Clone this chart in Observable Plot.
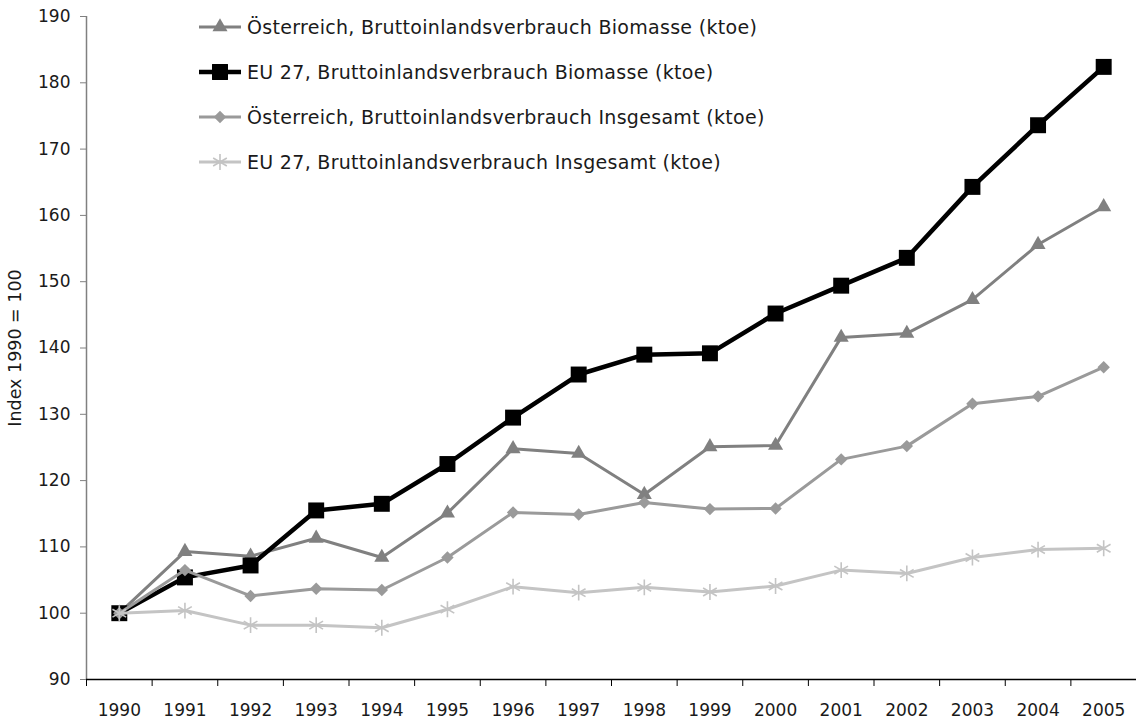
<!DOCTYPE html>
<html><head><meta charset="utf-8">
<script src="https://cdn.jsdelivr.net/npm/d3@7"></script>
<script src="https://cdn.jsdelivr.net/npm/@observablehq/plot@0.6"></script>
<style>
html,body{margin:0;padding:0;background:#fff;}
#wrap{position:relative;width:1136px;height:722px;font-family:"DejaVu Sans",sans-serif;}
#legend{position:absolute;left:199px;top:15px;}
.row{display:flex;align-items:center;height:24px;margin-bottom:21px;font-size:19px;letter-spacing:0.3px;color:#1a1a1a;white-space:nowrap;}
.row svg{margin-right:6px;}
</style></head><body><div id="wrap"></div>
<script>
const years = [1990,1991,1992,1993,1994,1995,1996,1997,1998,1999,2000,2001,2002,2003,2004,2005];
const atBio   = [100,109.3,108.6,111.3,108.4,115.1,124.8,124.1,117.9,125.1,125.3,141.6,142.2,147.3,155.6,161.3];
const euBio   = [100,105.4,107.2,115.5,116.5,122.5,129.5,136.0,139.0,139.2,145.2,149.4,153.6,164.3,173.6,182.4];
const atTotal = [100,106.5,102.6,103.7,103.5,108.4,115.2,114.9,116.7,115.7,115.8,123.2,125.2,131.6,132.7,137.1];
const euTotal = [100,100.4,98.2,98.2,97.8,100.6,104.0,103.1,103.9,103.2,104.1,106.5,106.0,108.4,109.6,109.8];
const seriesNames = [
  "Österreich, Bruttoinlandsverbrauch Biomasse (ktoe)",
  "EU 27, Bruttoinlandsverbrauch Biomasse (ktoe)",
  "Österreich, Bruttoinlandsverbrauch Insgesamt (ktoe)",
  "EU 27, Bruttoinlandsverbrauch Insgesamt (ktoe)"
];
const yTicks = [90,100,110,120,130,140,150,160,170,180,190];
const yLabel = "Index 1990 = 100";

const styles = [
  {values: atBio,   color: "#808080", width: 3,   symbol: "triangle",  r: 5.6, fill: true},
  {values: euBio,   color: "#000000", width: 4.5, symbol: "square",    r: 9,   fill: true},
  {values: atTotal, color: "#9a9a9a", width: 3,   symbol: "diamond2",  r: 5.6, fill: true},
  {values: euTotal, color: "#c4c4c4", width: 3,   symbol: "asterisk",  r: 7.5, fill: false}
];

const data = styles.map((s, k) => years.map((yr, i) => ({series: seriesNames[k], year: yr, value: s.values[i]})));

const boundaries = [years[0] - 0.5, ...years.map(y => y + 0.5)];

const marks = [];
styles.forEach((s, k) => {
  marks.push(Plot.line(data[k], {x: "year", y: "value", stroke: s.color, strokeWidth: s.width, strokeLinejoin: "round"}));
  marks.push(Plot.dot(data[k], s.fill
    ? {x: "year", y: "value", symbol: () => s.symbol, r: s.r, fill: s.color, stroke: "none"}
    : {x: "year", y: "value", symbol: () => s.symbol, r: s.r, fill: "none", stroke: s.color, strokeWidth: 1.6}));
});

const plot = Plot.plot({
  width: 1136,
  height: 722,
  marginLeft: 86,
  marginRight: 0,
  marginTop: 16,
  marginBottom: 43,
  style: {fontFamily: "'DejaVu Sans', sans-serif", fontSize: "17px", color: "#1a1a1a", background: "#fff"},
  x: {domain: [boundaries[0], boundaries[boundaries.length - 1]], type: "linear"},
  y: {domain: [90, 190]},
  symbol: {type: "identity"},
  marks: [
    Plot.axisY({ticks: yTicks, tickSize: 6, tickPadding: 10, stroke: "#808080", label: null, fontSize: 17}),
    Plot.axisY({ticks: [], label: yLabel, labelAnchor: "center", labelOffset: 78, labelArrow: "none", fontSize: 17.5}),
    Plot.axisX({ticks: years, tickSize: 0, tickPadding: 24, tickFormat: d => String(d), label: null, fontSize: 17}),
    Plot.axisX({ticks: boundaries, tickSize: 7, tickFormat: () => "", label: null, stroke: "#000"}),
    Plot.ruleX([boundaries[0]], {stroke: "#808080", strokeWidth: 1.5}),
    Plot.ruleY([90], {stroke: "#000", strokeWidth: 1.5}),
    ...marks
  ]
});

const wrap = document.getElementById("wrap");
wrap.appendChild(plot);

// legend
const legend = document.createElement("div");
legend.id = "legend";
styles.forEach((s, k) => {
  const row = document.createElement("div");
  row.className = "row";
  const sw = d3.create("svg").attr("width", 42).attr("height", 24);
  sw.append("line").attr("x1", 0).attr("x2", 42).attr("y1", 12).attr("y2", 12)
    .attr("stroke", s.color).attr("stroke-width", s.width);
  const symMap = {triangle: d3.symbolTriangle, square: d3.symbolSquare, diamond2: d3.symbolDiamond2, asterisk: d3.symbolAsterisk};
  const path = d3.symbol(symMap[s.symbol], s.r * s.r * Math.PI)();
  sw.append("path").attr("d", path).attr("transform", "translate(21,12)")
    .attr("fill", s.fill ? s.color : "none").attr("stroke", s.fill ? "none" : s.color).attr("stroke-width", 1.6);
  row.appendChild(sw.node());
  const t = document.createElement("span");
  t.textContent = seriesNames[k];
  row.appendChild(t);
  legend.appendChild(row);
});
wrap.appendChild(legend);
</script>
</body></html>
